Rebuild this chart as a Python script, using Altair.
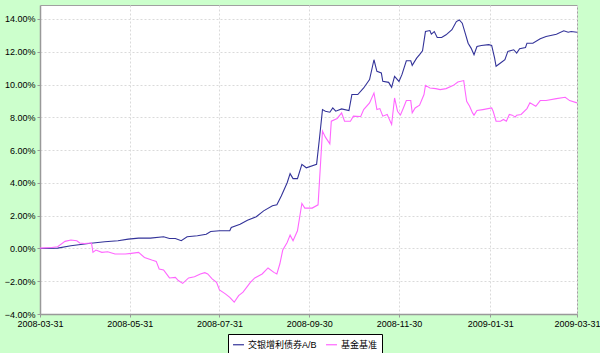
import altair as alt
import pandas as pd

START = "2008-03-31"
series_names = ["交银增利债券A/B", "基金基准"]
series_colors = ["#333399", "#FF66FF"]

fund_days = [0, 12, 21, 33, 44, 53, 60, 67, 75, 84, 88, 92, 96, 100, 107, 113, 116, 122, 129, 130,
             136, 141, 147, 152, 158, 161, 164, 168, 170, 172, 175, 178, 181, 188, 190, 192, 194, 197,
             199, 201, 205, 210, 212, 216, 220, 224, 227, 229, 232, 233, 237, 239, 241, 244, 246, 249,
             252, 253, 256, 258, 260, 262, 265, 266, 268, 270, 273, 276, 280, 283, 285, 287, 289, 291,
             293, 295, 297, 300, 305, 307, 309, 310, 313, 316, 318, 322, 324, 326, 330, 331, 335, 340,
             344, 351, 356, 359, 361, 365]
fund_vals = [0.00, 0.02, 0.16, 0.30, 0.41, 0.47, 0.57, 0.63, 0.63, 0.71, 0.61, 0.61, 0.47, 0.71, 0.77,
             0.87, 1.03, 1.08, 1.08, 1.28, 1.48, 1.72, 1.93, 2.29, 2.60, 2.66, 3.20, 4.01, 4.56, 4.26,
             4.26, 5.13, 4.92, 5.13, 6.75, 8.47, 8.37, 8.31, 8.57, 8.37, 8.51, 8.41, 9.39, 9.39, 9.79,
             10.30, 11.51, 10.80, 10.70, 10.19, 10.13, 9.83, 10.50, 10.19, 10.60, 11.45, 11.45, 11.17,
             11.61, 11.82, 12.06, 13.23, 13.29, 13.07, 13.23, 12.87, 12.87, 13.03, 13.34, 13.84, 13.94,
             13.74, 13.13, 12.52, 12.22, 11.82, 12.32, 12.38, 12.43, 12.38, 11.61, 11.11, 11.31, 11.51,
             12.02, 12.12, 11.92, 12.18, 12.26, 12.52, 12.52, 12.79, 12.93, 13.07, 13.28, 13.19, 13.23,
             13.19]

bench_days = [0, 8, 12, 17, 21, 25, 27, 30, 35, 36, 38, 42, 46, 51, 58, 62, 67, 71, 76, 79, 81, 84, 88,
              92, 94, 97, 101, 105, 109, 112, 114, 117, 120, 122, 126, 129, 132, 135, 138, 143, 146, 151,
              155, 159, 161, 163, 165, 168, 170, 172, 175, 177, 178, 180, 185, 189, 192, 194, 197, 198,
              202, 205, 207, 211, 213, 218, 220, 224, 227, 229, 231, 233, 236, 239, 241, 243, 245, 247,
              249, 252, 253, 255, 258, 261, 262, 265, 269, 272, 276, 281, 284, 288, 289, 290, 292, 294,
              295, 297, 301, 307, 308, 310, 313, 315, 317, 319, 321, 323, 324, 327, 331, 333, 337, 340,
              344, 351, 357, 360, 365]
bench_vals = [0.02, 0.06, 0.10, 0.43, 0.51, 0.47, 0.33, 0.30, 0.33, -0.24, -0.10, -0.24, -0.20, -0.34,
              -0.34, -0.30, -0.24, -0.55, -0.71, -0.79, -1.25, -1.31, -1.80, -1.77, -1.96, -2.13, -1.80,
              -1.73, -1.56, -1.48, -1.56, -1.86, -2.07, -2.53, -2.77, -2.98, -3.28, -2.88, -2.67, -2.07,
              -1.80, -1.56, -1.19, -1.46, -1.56, -0.95, -0.10, 0.36, 0.81, 0.47, 1.08, 2.19, 2.74, 2.46,
              2.46, 2.66, 7.16, 6.79, 6.38, 7.76, 7.93, 8.27, 7.76, 7.76, 8.07, 8.05, 8.47, 8.88, 9.48,
              8.47, 8.53, 8.07, 8.17, 7.56, 9.18, 8.37, 8.14, 8.57, 9.02, 9.02, 8.27, 8.57, 8.74, 9.39,
              9.95, 9.79, 9.75, 9.69, 9.75, 9.95, 10.15, 10.24, 9.59, 8.98, 8.67, 8.27, 8.13, 8.41, 8.47,
              8.57, 8.37, 7.76, 7.76, 7.87, 7.76, 8.17, 8.13, 8.01, 8.13, 8.17, 8.53, 8.88, 8.67, 9.02,
              9.02, 9.14, 9.22, 9.02, 8.88]

y_ticks = [-4, -2, 0, 2, 4, 6, 8, 10, 12, 14]
x_ticks = ["2008-03-31", "2008-05-31", "2008-07-31", "2008-09-30", "2008-11-30", "2009-01-31", "2009-03-31"]

start = pd.Timestamp(START)
frames = []
for name, days, vals in [(series_names[0], fund_days, fund_vals), (series_names[1], bench_days, bench_vals)]:
    d = pd.DataFrame({
        "date": (start + pd.to_timedelta(days, unit="D")).strftime("%Y-%m-%dT00:00:00"),
        "value": vals,
        "series": name,
    })
    frames.append(d)
df = pd.concat(frames, ignore_index=True)


def dt(s):
    y, m, d = (int(p) for p in s.split("-"))
    return alt.DateTime(year=y, month=m, date=d)


FONT = "Liberation Sans, Arial, Noto Sans CJK SC, sans-serif"

chart = alt.Chart(df).mark_line(strokeWidth=1.1).encode(
    x=alt.X("date:T",
            scale=alt.Scale(domain=[dt(x_ticks[0]), dt(x_ticks[-1])], nice=False),
            axis=alt.Axis(values=[dt(t) for t in x_ticks], format="%Y-%m-%d", title=None,
                          labelAngle=0, labelPadding=2, labelOverlap=False, labelFlush=False)),
    y=alt.Y("value:Q",
            scale=alt.Scale(domain=[-4, 14.85], nice=False, zero=False),
            axis=alt.Axis(values=y_ticks, title=None,
                          labelExpr="format(datum.value, '.2f') + '%'", labelPadding=2)),
    color=alt.Color("series:N",
                    scale=alt.Scale(domain=series_names, range=series_colors),
                    legend=alt.Legend(orient="none", legendX=188, legendY=329, direction="horizontal",
                                      title=None, fillColor="white", strokeColor="#000000",
                                      padding=4, symbolType="stroke", symbolStrokeWidth=1.2,
                                      symbolSize=120, labelFontSize=9, labelFont=FONT,
                                      labelColor="#000000", columnPadding=6, labelOffset=3)),
    order=alt.Order("date:T"),
).properties(
    width=537, height=309,
    background="#CCFFCC",
    padding={"left": 40, "top": 5, "right": 23, "bottom": 39},
    autosize=alt.AutoSizeParams(type="none"),
).configure_view(
    fill="white", stroke="#a0a0a0", strokeWidth=1,
).configure_axis(
    grid=True, gridColor="#dadada", gridDash=[2, 2], gridWidth=1,
    domainColor="#999999", domainWidth=1.5, tickColor="#999999", tickSize=3,
    labelFont=FONT, labelFontSize=9, labelColor="#000000",
)

chart.save("out.html", embed_options={"renderer": "svg", "actions": False})
